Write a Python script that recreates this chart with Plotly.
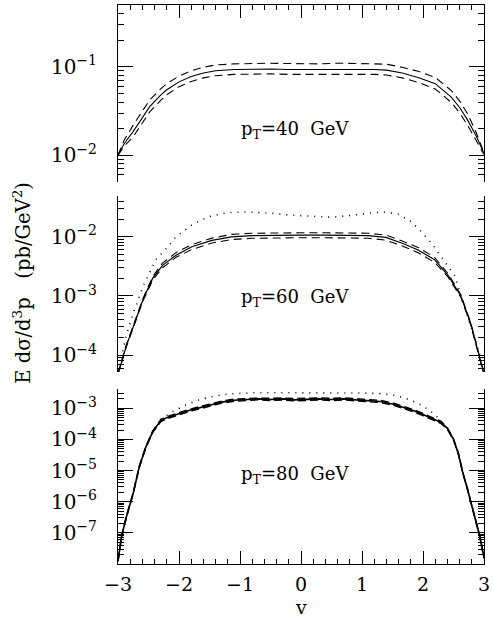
import plotly.graph_objects as go

# ---------------- data ----------------
# pT = 40 GeV panel
v40 = [-3.0, -2.9, -2.75, -2.6, -2.48, -2.3, -2.2, -2.0, -1.8, -1.6, -1.4, -1.1, -0.8, -0.5,
       -0.2, 0.0, 0.3, 0.6, 0.9, 1.2, 1.4, 1.66, 1.92, 2.2, 2.46, 2.6, 2.73, 2.87, 3.0]
solid40 = [0.0100, 0.0135, 0.0186, 0.0269, 0.0355, 0.0479, 0.0550, 0.0676, 0.0776, 0.0851,
           0.0902, 0.0933, 0.0944, 0.0944, 0.0933, 0.0933, 0.0933, 0.0944, 0.0944, 0.0933,
           0.0918, 0.0851, 0.0759, 0.0646, 0.0457, 0.0347, 0.0251, 0.0166, 0.0105]
upper40 = [0.0100, 0.0148, 0.0219, 0.0320, 0.0422, 0.0562, 0.0646, 0.0785, 0.0902, 0.0989,
           0.105, 0.108, 0.110, 0.110, 0.109, 0.108, 0.108, 0.110, 0.110, 0.108,
           0.107, 0.0989, 0.0891, 0.0759, 0.0543, 0.0412, 0.0295, 0.0182, 0.0107]
lower40 = [0.0100, 0.0126, 0.0162, 0.0234, 0.0309, 0.0417, 0.0484, 0.0596, 0.0684, 0.0750,
           0.0794, 0.0822, 0.0832, 0.0832, 0.0822, 0.0822, 0.0822, 0.0832, 0.0832, 0.0822,
           0.0809, 0.0750, 0.0668, 0.0562, 0.0398, 0.0302, 0.0219, 0.0148, 0.0102]

# pT = 60 GeV panel
v60 = [-3.0, -2.95, -2.86, -2.75, -2.59, -2.43, -2.27, -2.05, -1.79, -1.46, -1.14, -0.8, -0.4,
       0.0, 0.4, 0.8, 1.1, 1.39, 1.66, 1.92, 2.19, 2.41, 2.62, 2.78, 2.95, 3.0]
solid60 = [4.8e-5, 7.1e-5, 1.48e-4, 3.0e-4, 8.7e-4, 2.0e-3, 3.3e-3, 4.9e-3, 6.8e-3, 8.7e-3,
           1.00e-2, 1.05e-2, 1.07e-2, 1.07e-2, 1.07e-2, 1.07e-2, 1.05e-2, 9.8e-3, 7.8e-3,
           6.0e-3, 4.1e-3, 2.24e-3, 1.0e-3, 3.5e-4, 8.1e-5, 4.8e-5]
upper60 = [5.0e-5, 7.4e-5, 1.55e-4, 3.16e-4, 9.1e-4, 2.14e-3, 3.6e-3, 5.4e-3, 7.4e-3, 9.5e-3,
           1.10e-2, 1.15e-2, 1.17e-2, 1.17e-2, 1.17e-2, 1.17e-2, 1.15e-2, 1.07e-2, 8.5e-3,
           6.6e-3, 4.5e-3, 2.4e-3, 1.05e-3, 3.6e-4, 8.5e-5, 5.0e-5]
lower60 = [4.6e-5, 6.8e-5, 1.41e-4, 2.9e-4, 8.3e-4, 1.86e-3, 3.0e-3, 4.5e-3, 6.1e-3, 7.85e-3,
           9.0e-3, 9.45e-3, 9.65e-3, 9.65e-3, 9.65e-3, 9.65e-3, 9.45e-3, 8.8e-3, 7.0e-3,
           5.4e-3, 3.7e-3, 2.1e-3, 9.5e-4, 3.3e-4, 7.8e-5, 4.6e-5]
vdot60 = [-2.95, -2.86, -2.75, -2.59, -2.38, -2.21, -2.05, -1.79, -1.52, -1.2, -0.9, -0.5, -0.2,
          0.2, 0.5, 0.8, 1.1, 1.35, 1.6, 1.8, 1.98, 2.15, 2.3, 2.52, 2.73, 2.85, 2.95]
dot60 = [8.9e-5, 2.24e-4, 5.1e-4, 1.45e-3, 4.1e-3, 6.3e-3, 1.0e-2, 1.58e-2, 2.19e-2, 2.57e-2,
         2.63e-2, 2.51e-2, 2.34e-2, 2.19e-2, 2.14e-2, 2.29e-2, 2.51e-2, 2.63e-2, 2.40e-2,
         1.82e-2, 1.20e-2, 7.6e-3, 4.6e-3, 2.19e-3, 4.6e-4, 1.82e-4, 8.9e-5]

# pT = 80 GeV panel
v80 = [-3.0, -2.94, -2.86, -2.75, -2.65, -2.54, -2.43, -2.3, -2.2, -2.0, -1.8, -1.5, -1.3, -1.1,
       -0.9, -0.7, -0.5, -0.3, -0.1, 0.1, 0.3, 0.5, 0.7, 0.9, 1.1, 1.3, 1.5, 1.7, 1.85, 2.0,
       2.15, 2.3, 2.4, 2.5, 2.58, 2.65, 2.73, 2.8, 2.87, 2.93, 3.0]
solid80 = [1.26e-8, 7.9e-8, 3.4e-7, 1.9e-6, 1.35e-5, 5.9e-5, 1.78e-4, 4.0e-4, 5.0e-4, 6.6e-4,
           8.9e-4, 1.26e-3, 1.58e-3, 1.82e-3, 1.91e-3, 2.0e-3, 1.91e-3, 2.0e-3, 1.86e-3,
           1.91e-3, 2.0e-3, 1.91e-3, 2.0e-3, 1.86e-3, 1.78e-3, 1.66e-3, 1.38e-3, 1.05e-3,
           8.3e-4, 6.3e-4, 4.8e-4, 3.5e-4, 2.24e-4, 1.0e-4, 3.5e-5, 8.9e-6, 2.5e-6, 7.9e-7,
           2.5e-7, 7.9e-8, 1.6e-8]
upper80 = [1.3e-8, 8.3e-8, 3.6e-7, 2.0e-6, 1.42e-5, 6.2e-5, 1.88e-4, 4.3e-4, 5.4e-4, 7.1e-4,
           9.6e-4, 1.36e-3, 1.70e-3, 1.97e-3, 2.08e-3, 2.12e-3, 2.10e-3, 2.15e-3, 2.04e-3,
           2.09e-3, 2.16e-3, 2.08e-3, 2.15e-3, 2.03e-3, 1.93e-3, 1.80e-3, 1.50e-3, 1.14e-3,
           9.0e-4, 6.8e-4, 5.2e-4, 3.8e-4, 2.36e-4, 1.05e-4, 3.7e-5, 9.3e-6, 2.6e-6, 8.2e-7,
           2.6e-7, 8.2e-8, 1.7e-8]
lower80 = [1.2e-8, 7.5e-8, 3.2e-7, 1.8e-6, 1.28e-5, 5.6e-5, 1.68e-4, 3.7e-4, 4.6e-4, 6.1e-4,
           8.2e-4, 1.16e-3, 1.46e-3, 1.68e-3, 1.76e-3, 1.86e-3, 1.78e-3, 1.85e-3, 1.72e-3,
           1.77e-3, 1.86e-3, 1.76e-3, 1.85e-3, 1.72e-3, 1.64e-3, 1.53e-3, 1.27e-3, 0.97e-3,
           7.6e-4, 5.8e-4, 4.4e-4, 3.2e-4, 2.12e-4, 0.95e-4, 3.3e-5, 8.5e-6, 2.4e-6, 7.6e-7,
           2.4e-7, 7.6e-8, 1.5e-8]
vdot80 = [-2.3, -2.1, -1.9, -1.7, -1.5, -1.3, -1.1, -0.8, -0.5, -0.2, 0.1, 0.4, 0.7, 1.0, 1.3,
          1.5, 1.7, 1.9, 2.1, 2.3]
dot80 = [4.5e-4, 7.9e-4, 1.26e-3, 1.78e-3, 2.29e-3, 2.69e-3, 2.95e-3, 3.16e-3, 3.16e-3,
         3.16e-3, 3.16e-3, 3.16e-3, 3.16e-3, 3.09e-3, 2.95e-3, 2.69e-3, 2.14e-3, 1.51e-3,
         8.9e-4, 4.0e-4]

xtick_vals = [-3, -2, -1, 0, 1, 2, 3]
xtick_text = ["\u22123", "\u22122", "\u22121", "0", "1", "2", "3"]
panel_labels = ["p<sub>T</sub>=40\u00a0 GeV", "p<sub>T</sub>=60\u00a0 GeV", "p<sub>T</sub>=80\u00a0 GeV"]
y_title = "E d\u03c3/d<sup>3</sup>p\u00a0\u00a0 (pb/GeV<sup>2</sup>)"
x_title = "v"

# ---------------- figure ----------------
FONT = "DejaVu Serif"
fig = go.Figure()

def add_line(x, y, axes, dash, width):
    fig.add_trace(go.Scatter(x=x, y=y, mode="lines", xaxis=axes[0], yaxis=axes[1],
                             line=dict(color="black", width=width, dash=dash),
                             showlegend=False, hoverinfo="skip"))

top = ("x3", "y3")
mid = ("x2", "y2")
bot = ("x", "y")

add_line(v40, upper40, top, "8px,5px", 1.1)
add_line(v40, lower40, top, "8px,5px", 1.1)
add_line(v40, solid40, top, "solid", 1.1)

add_line(vdot60, dot60, mid, "1px,6px", 1.6)
add_line(v60, upper60, mid, "8px,5px", 1.1)
add_line(v60, lower60, mid, "8px,5px", 1.1)
add_line(v60, solid60, mid, "solid", 1.2)

add_line(vdot80, dot80, bot, "1px,6px", 1.6)
add_line(v80, upper80, bot, "8px,4px", 1.4)
add_line(v80, lower80, bot, "8px,4px", 1.4)
add_line(v80, solid80, bot, "solid", 1.6)

def ylog(rng, exps, domain):
    lo, hi = int(rng[0]) - 1, int(rng[1]) + 1
    minor_vals = [m * 10.0 ** k for k in range(lo, hi + 1) for m in range(2, 10)]
    return dict(type="log", range=rng, domain=domain,
                tickvals=[10.0 ** e for e in exps],
                ticktext=["10<sup>\u2212%d</sup>" % (-e) for e in exps],
                showline=True, linecolor="black", linewidth=1, mirror="ticks",
                ticks="inside", ticklen=15, tickcolor="black", tickwidth=1,
                minor=dict(ticks="inside", ticklen=6, tickcolor="black", tickwidth=1,
                           showgrid=False, tickvals=minor_vals),
                showgrid=False, zeroline=False, ticklabelstandoff=16,
                tickfont=dict(family=FONT, size=20, color="black"))

def xlin(anchor, side, show_line, labels):
    d = dict(range=[-3, 3], anchor=anchor, side=side, showgrid=False, zeroline=False,
             tickvals=xtick_vals, ticktext=xtick_text, showticklabels=labels,
             tickfont=dict(family=FONT, size=19, color="black"),
             ticklabelstandoff=3, ticklabeloverflow="allow")
    if show_line:
        d.update(showline=True, linecolor="black", linewidth=1, ticks="inside",
                 ticklen=13, tickcolor="black", tickwidth=1,
                 minor=dict(ticks="inside", ticklen=5, dtick=0.2, tickcolor="black",
                            tickwidth=1, showgrid=False))
    else:
        d.update(showline=False, ticks="")
    return d

fig.update_layout(
    width=493, height=621,
    margin=dict(l=118, r=3, t=5, b=57),
    paper_bgcolor="white", plot_bgcolor="white",
    font=dict(family=FONT, size=18, color="black"),
    xaxis=xlin("y", "bottom", True, True),
    xaxis2=xlin("y2", "bottom", False, False),
    xaxis3=xlin("y3", "top", True, False),
    yaxis=ylog([-8.0, -2.38], [-7, -6, -5, -4, -3], [0.0, 0.3131]),
    yaxis2=ylog([-4.28, -1.31], [-4, -3, -2], [0.344, 0.6583]),
    yaxis3=ylog([-2.30, -0.30], [-2, -1], [0.6839, 1.0]),
)

anns = [
    dict(x=-1.02, y=-1.71, xref="x3", yref="y3", text=panel_labels[0]),
    dict(x=-1.02, y=-3.04, xref="x2", yref="y2", text=panel_labels[1]),
    dict(x=-1.02, y=-5.13, xref="x", yref="y", text=panel_labels[2]),
]
for a in anns:
    fig.add_annotation(showarrow=False, xanchor="left", yanchor="middle",
                       font=dict(family=FONT, size=18, color="black"), **a)

fig.add_annotation(x=-0.263, y=0.5027, xref="paper", yref="paper", text=y_title,
                   textangle=-90, showarrow=False, xanchor="center", yanchor="middle",
                   font=dict(family=FONT, size=19.5, color="black"))
fig.add_annotation(x=0.5, y=-0.0769, xref="paper", yref="paper", text=x_title,
                   showarrow=False, xanchor="center", yanchor="middle",
                   font=dict(family=FONT, size=19, color="black"))

fig.write_html("out.html")
